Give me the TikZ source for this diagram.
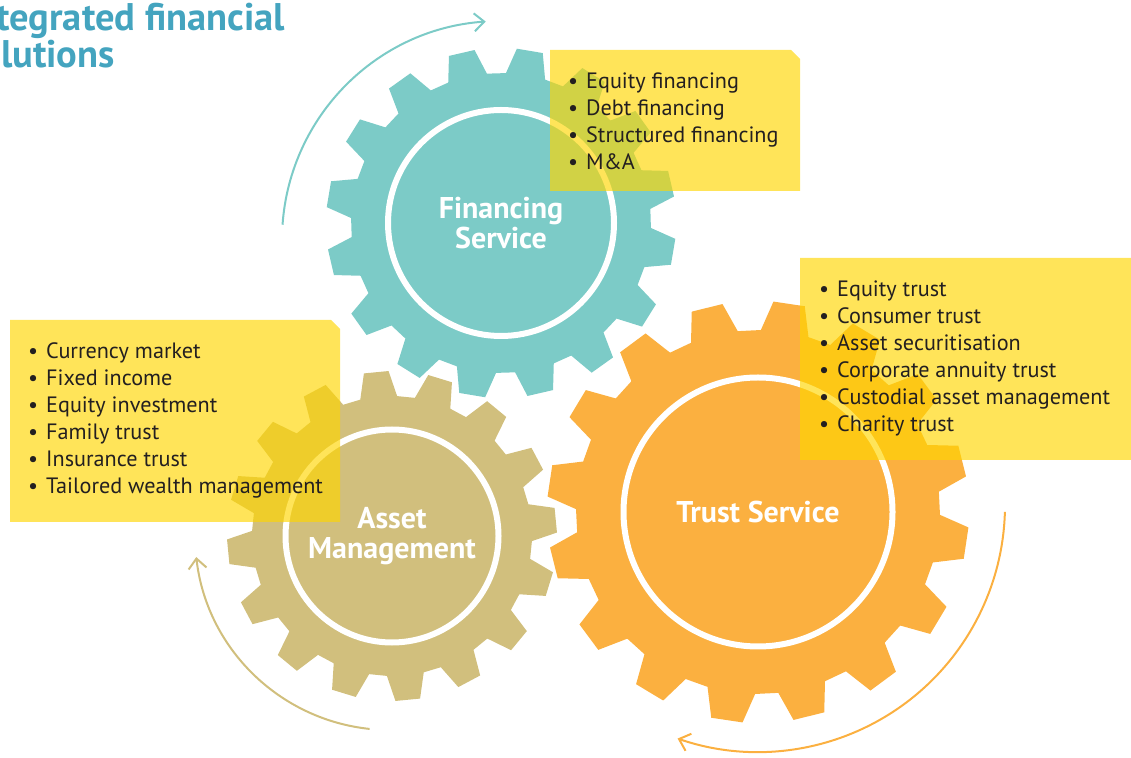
\documentclass[tikz,border=0pt]{standalone}
\usepackage{fontspec}
\setmainfont{PT Sans}
\usepackage{tikz}
\usetikzlibrary{arrows.meta, calc}
\definecolor{fincolor}{RGB}{124,203,199}
\definecolor{assetcolor}{RGB}{209,191,125}
\definecolor{trustcolor}{RGB}{251,176,64}
\definecolor{notecolor}{RGB}{255,214,0}
\definecolor{titlecolor}{RGB}{68,164,191}
\definecolor{inkcolor}{RGB}{35,31,32}
\newcommand{\bitem}[1]{\makebox[18pt][l]{\textbullet}#1}

\begin{document}
\begin{tikzpicture}[
    x=1pt, y=1pt,
    ring/.style={draw=white, line width=6pt},
    gearlabel/.style={text=white, align=center, inner sep=0pt, font=\bfseries\fontsize{30}{30}\selectfont},
    notefill/.style={fill=notecolor, fill opacity=0.65},
    notetext/.style={anchor=west, text=inkcolor, align=left, inner sep=0pt, font=\fontsize{22.2}{27}\selectfont},
    turn/.style={line width=2pt, -{Straight Barb[length=10pt, width=18pt]}}
]
    \useasboundingbox (0,0) rectangle (1131,757);
    \clip (0,0) rectangle (1131,757);

    \node[anchor=north west, inner sep=0pt, text=titlecolor, align=left, font=\bfseries\fontsize{38.5}{37}\selectfont] (title) at (-36,754) {Integrated financial\\solutions};

    \foreach \gx/\gy/\rroot/\rtip/\rring/\ph/\gcol in {501/534/150/175/113/13/fincolor, 392/221/140/165/106.5/5.5/assetcolor, 758/245/182/211/134.5/14/trustcolor} {
        \fill[\gcol, shift={(\gx,\gy)}] ({\ph-7.6}:\rroot) \foreach \k in {0,...,15} { -- ({\ph+22.5*\k-7.6}:\rroot) -- ({\ph+22.5*\k-4.3}:\rtip) -- ({\ph+22.5*\k+4.3}:\rtip) -- ({\ph+22.5*\k+7.6}:\rroot) } -- cycle;
        \draw[ring] (\gx,\gy) circle[radius=\rring];
    }

    \node[gearlabel] (finlbl) at (501,534) {Financing\\Service};
    \node[gearlabel] (assetlbl) at (392,221) {Asset\\Management};
    \node[gearlabel] (trustlbl) at (758,245) {Trust Service};

    \coordinate (finturn) at ($(501,517)+(176:219)$);
    \coordinate (assetturn) at ($(390,222)+(264:195)$);
    \coordinate (trustturn) at ($(758,252)+(-1.6:247)$);
    \draw[turn, fincolor] (finturn) arc[start angle=176, end angle=94, radius=219];
    \draw[turn, assetcolor] (assetturn) arc[start angle=264, end angle=186.5, radius=195];
    \draw[turn, trustcolor] (trustturn) arc[start angle=-1.6, end angle=-109, radius=247];

    \foreach \bx/\by/\bw/\bh in {550/566/250/141, 10/235/330/202, 800/297/345/202}
        \fill[notefill] (\bx,\by) -- ++(0,\bh) -- ++(\bw-9,0) -- ++(9,-9) -- ++(0,-\bh+9) -- cycle;

    \node[notetext] (finnotes) at (568,636) {\bitem{Equity financing}\\\bitem{Debt financing}\\\bitem{Structured financing}\\\bitem{M\&A}};
    \node[notetext] (assetnotes) at (28,336.5) {\bitem{Currency market}\\\bitem{Fixed income}\\\bitem{Equity investment}\\\bitem{Family trust}\\\bitem{Insurance trust}\\\bitem{Tailored wealth management}};
    \node[notetext] (trustnotes) at (819,398.5) {\bitem{Equity trust}\\\bitem{Consumer trust}\\\bitem{Asset securitisation}\\\bitem{Corporate annuity trust}\\\bitem{Custodial asset management}\\\bitem{Charity trust}};
\end{tikzpicture}
\end{document}
